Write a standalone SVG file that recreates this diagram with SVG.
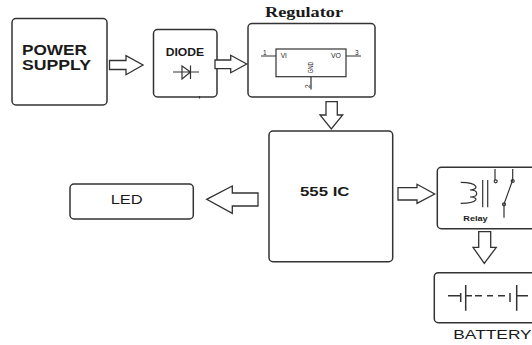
<svg xmlns="http://www.w3.org/2000/svg" width="532" height="345" viewBox="0 0 532 345">
<style>
.box{fill:#fff;stroke:#333;stroke-width:1.5}
.arr{fill:#fff;stroke:#333;stroke-width:1.3}
.ln{fill:none;stroke:#333;stroke-width:1.2}
.t{font-family:"Liberation Sans",Arial,sans-serif;fill:#1a1a1a}
.b{font-weight:700}
</style>
<rect width="532" height="345" fill="#fff"/>
<g id="power-supply">
<rect class="box" x="12" y="18.500" width="95" height="86.500" rx="4"/>
<text class="t b" x="22" y="54.500" font-size="14.500" textLength="65" lengthAdjust="spacingAndGlyphs">POWER</text>
<text class="t b" x="22" y="70" font-size="14.500" textLength="69" lengthAdjust="spacingAndGlyphs">SUPPLY</text>
</g>
<g id="diode">
<rect class="box" x="153.500" y="29.500" width="63.500" height="67.500" rx="4"/>
<text class="t b" x="165.700" y="56" font-size="10.500" textLength="38.500" lengthAdjust="spacingAndGlyphs">DIODE</text>
<path class="ln" d="M173 72H199M182 66L190.500 72L182 79ZM190.500 65.500V79M199.500 96V98.500"/>
</g>
<g id="regulator">
<rect class="box" x="248" y="23.500" width="127" height="73.500" rx="4"/>
<text x="265" y="16.700" font-family="Liberation Serif,Times New Roman,serif" font-weight="700" font-size="14.500" fill="#1a1a1a" textLength="78" lengthAdjust="spacingAndGlyphs">Regulator</text>
<rect class="ln" x="276" y="49" width="70" height="27.700"/>
<path class="ln" d="M261 56H276M346 56H361M311 76.700V89.500"/>
<g class="t" font-size="6.500">
<text x="263" y="55">1</text><text x="280.700" y="58">VI</text><text x="331" y="58" textLength="10" lengthAdjust="spacingAndGlyphs">VO</text><text x="355" y="55">3</text>
<text transform="translate(313,73.300) rotate(-90)" textLength="11.700" lengthAdjust="spacingAndGlyphs">GND</text>
<text transform="translate(309.500,88) rotate(-90)">2</text>
</g>
</g>
<g id="ic555">
<rect class="box" x="269" y="131" width="123.700" height="130.700" rx="4"/>
<text class="t b" x="300" y="196" font-size="13.500" textLength="49.500" lengthAdjust="spacingAndGlyphs">555 IC</text>
</g>
<g id="led">
<rect class="box" x="70" y="184" width="123.300" height="35" rx="4"/>
<text class="t" x="110.700" y="204.300" font-size="13.500" textLength="32" lengthAdjust="spacingAndGlyphs">LED</text>
</g>
<g id="relay">
<rect class="box" x="437.300" y="167.300" width="100" height="61.400" rx="4"/>
<path class="ln" d="M460.700 182.300C479 182.300 479 190 470 190C479 190 479 197 470 197C479 197 479 203.300 460.700 203.300M482.700 180V207.300M487.700 180V207.300M495 169V180M512.700 169V180L504 204V217.700"/>
<circle class="ln" cx="495.700" cy="181.300" r="1.500"/><circle class="ln" cx="512.700" cy="181" r="1.500"/><circle class="ln" cx="504" cy="204.300" r="1.500"/>
<text class="t b" x="463.300" y="220.700" font-size="7.500" textLength="24.400" lengthAdjust="spacingAndGlyphs">Relay</text>
</g>
<g id="battery">
<rect class="box" x="434.300" y="272.700" width="105" height="50" rx="4"/>
<path class="ln" style="stroke-width:1.500" d="M448 295.700H460.700M460.700 293V302M465.700 285V310.700M465.700 295.700H472M475 295.700H482M487 295.700H493M498 295.700H505M510 293V302M516.700 285V310.700M516.700 295.700H528"/>
<text class="t" x="453.300" y="338.700" font-size="13" textLength="78.400" lengthAdjust="spacingAndGlyphs">BATTERY</text>
</g>
<g id="connectors">
<path class="arr" d="M109.500 60.500H126V55.700L143 65L126 74.700V69.500H109.500Z"/>
<path class="arr" d="M215 60H230.700V55.300L246.700 64L230.700 72.700V68.700H215Z"/>
<path class="arr" d="M326 101.700H337.300V115H342.700L331.300 129L320 115H326Z"/>
<path class="arr" d="M258 193V206H232.300V213.300L206.700 199.300L232.300 186V193Z"/>
<path class="arr" d="M398 187.700H417V184.300L434.700 194L417 203.300V200H398Z"/>
<path class="arr" d="M478.700 231.700H490.700V247.300H496.300L484.300 263.300L473 247.300H478.700Z"/>
</g>
</svg>
